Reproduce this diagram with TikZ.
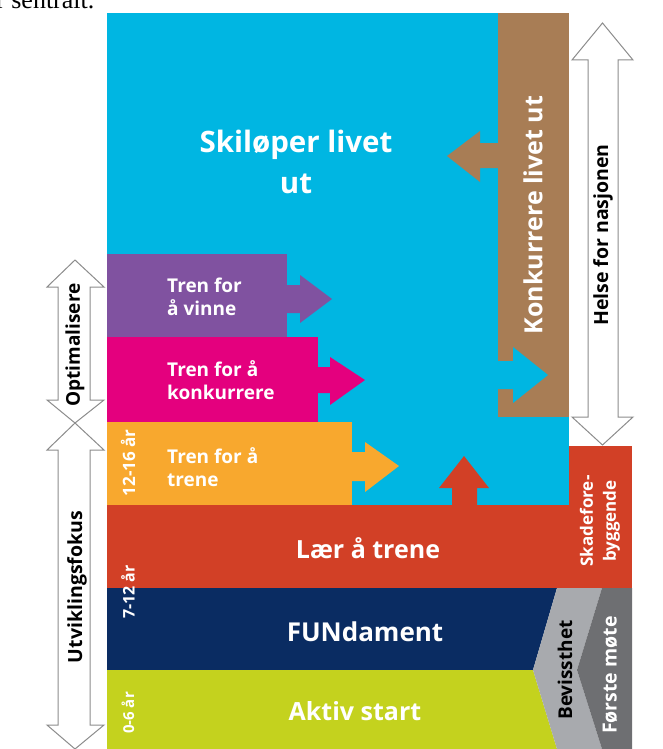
\documentclass[tikz,border=0pt]{standalone}
\usepackage{fontspec}
\setsansfont{Open Sans}
\setmainfont{Liberation Serif}
\definecolor{cyanbg}{RGB}{0,182,226}
\definecolor{brownc}{RGB}{168,125,85}
\definecolor{purplec}{RGB}{128,82,160}
\definecolor{magentac}{RGB}{228,0,126}
\definecolor{orangec}{RGB}{248,168,46}
\definecolor{redc}{RGB}{210,64,38}
\definecolor{navyc}{RGB}{10,44,98}
\definecolor{limec}{RGB}{196,210,30}
\definecolor{lgrayc}{RGB}{168,170,174}
\definecolor{dgrayc}{RGB}{110,111,114}
\definecolor{outlinec}{RGB}{140,140,140}
\tikzset{
  wlbl/.style={text=white, inner sep=0pt, font=\sffamily\bfseries},
  blbl/.style={text=black, inner sep=0pt, font=\sffamily\bfseries},
  dblarrow/.style={draw=outlinec, fill=white, line width=1pt, line join=miter},
}
\begin{document}
\begin{tikzpicture}[x=1pt,y=-1pt]
\useasboundingbox (0,0) rectangle (663,749);
% partially visible heading text
\node[anchor=base west, inner sep=0pt, font=\fontsize{26}{30}\selectfont] (head) at (-4,9) {r sentralt.};
% big cyan field
\fill[cyanbg] (107,13) rectangle (569,505);
% brown column
\fill[brownc] (498,13) rectangle (569,417);
\fill[brownc] (498,143) -- (480,143) -- (480,131) -- (447,156) -- (480,182) -- (480,168) -- (498,168) -- cycle;
\fill[cyanbg] (497,361) -- (513,361) -- (513,347) -- (548,375) -- (513,403) -- (513,389) -- (497,389) -- cycle;
% purple
\fill[purplec] (107,254) rectangle (287,337);
\fill[purplec] (286,285) -- (300,285) -- (300,275) -- (332,299) -- (300,323) -- (300,313) -- (286,313) -- cycle;
% magenta
\fill[magentac] (107,337) rectangle (318,422);
\fill[magentac] (317,367) -- (330,367) -- (330,357) -- (365,380) -- (330,405) -- (330,393) -- (317,393) -- cycle;
% orange
\fill[orangec] (107,422) rectangle (352,505);
\fill[orangec] (351,452) -- (365,452) -- (365,442) -- (399,466) -- (365,492) -- (365,481) -- (351,481) -- cycle;
% red
\fill[redc] (107,505) rectangle (569,588);
\fill[redc] (569,446) rectangle (632,588);
\fill[redc] (452,506) -- (452,488) -- (439,488) -- (464,456) -- (489,488) -- (477,488) -- (477,506) -- cycle;
% navy and lime
\fill[navyc] (107,588) -- (557,588) -- (533,670) -- (107,670) -- cycle;
\fill[limec] (107,670) -- (533,670) -- (557,749) -- (107,749) -- cycle;
% gray chevrons
\fill[lgrayc] (557,588) -- (602,588) -- (577,670) -- (602,749) -- (557,749) -- (533,670) -- cycle;
\fill[dgrayc] (602,588) -- (632,588) -- (632,749) -- (602,749) -- (577,670) -- cycle;
% outline double arrows
\draw[dblarrow] (588,60) -- (572,60) -- (602.5,23) -- (633,60) -- (618,60) -- (618,417) -- (633,417) -- (602.5,445) -- (572,417) -- (588,417) -- cycle;
\draw[dblarrow] (58,287) -- (47,287) -- (75,260) -- (104,287) -- (90,287) -- (90,400) -- (104,400) -- (75,423) -- (47,400) -- (58,400) -- cycle;
\draw[dblarrow] (58,450) -- (47,450) -- (75,423) -- (104,450) -- (90,450) -- (90,725) -- (104,725) -- (75,749) -- (47,725) -- (58,725) -- cycle;
% labels
\node[wlbl, align=center, font=\sffamily\bfseries\fontsize{29.5}{41}\selectfont] (ski) at (296,162) {Skiløper livet\\ut};
\node[wlbl, rotate=90, font=\sffamily\bfseries\fontsize{25}{30}\selectfont] (konk) at (533,215) {Konkurrere livet ut};
\node[blbl, rotate=90, font=\sffamily\bfseries\fontsize{19.5}{22}\selectfont] (helse) at (603,235) {Helse for nasjonen};
\node[wlbl, anchor=west, align=left, font=\sffamily\bfseries\fontsize{19}{23}\selectfont] (vinne) at (167,297) {Tren for\\å vinne};
\node[wlbl, anchor=west, align=left, font=\sffamily\bfseries\fontsize{19}{23}\selectfont] (konkr) at (167,380) {Tren for å\\konkurrere};
\node[wlbl, anchor=west, align=left, font=\sffamily\bfseries\fontsize{19}{23}\selectfont] (trene) at (167,467) {Tren for å\\trene};
\node[wlbl, font=\sffamily\bfseries\fontsize{25}{28}\selectfont] (laer) at (368,548) {Lær å trene};
\node[wlbl, font=\sffamily\bfseries\fontsize{26}{28}\selectfont] (fun) at (365,632) {FUNdament};
\node[wlbl, font=\sffamily\bfseries\fontsize{25}{28}\selectfont] (aktiv) at (355,711) {Aktiv start};
\node[wlbl, rotate=90, font=\sffamily\bfseries\fontsize{17}{18}\selectfont] (a1216) at (128,463) {12-16 år};
\node[wlbl, rotate=90, font=\sffamily\bfseries\fontsize{16}{18}\selectfont] (a712) at (128,592) {7-12 år};
\node[wlbl, rotate=90, font=\sffamily\bfseries\fontsize{15}{18}\selectfont] (a06) at (128,713) {0-6 år};
\node[blbl, rotate=90, font=\sffamily\bfseries\fontsize{19}{20}\selectfont] (opt) at (75,345) {Optimalisere};
\node[blbl, rotate=90, font=\sffamily\bfseries\fontsize{19.5}{20}\selectfont] (utv) at (77,587) {Utviklingsfokus};
\node[wlbl, rotate=90, align=center, font=\sffamily\bfseries\fontsize{17}{23}\selectfont] (skade) at (600,521) {Skadefore-\\byggende};
\node[blbl, rotate=90, font=\sffamily\bfseries\fontsize{19}{20}\selectfont] (bev) at (565,670) {Bevissthet};
\node[wlbl, rotate=90, font=\sffamily\bfseries\fontsize{19.5}{20}\selectfont] (forste) at (610,675) {Første møte};
\end{tikzpicture}
\end{document}
